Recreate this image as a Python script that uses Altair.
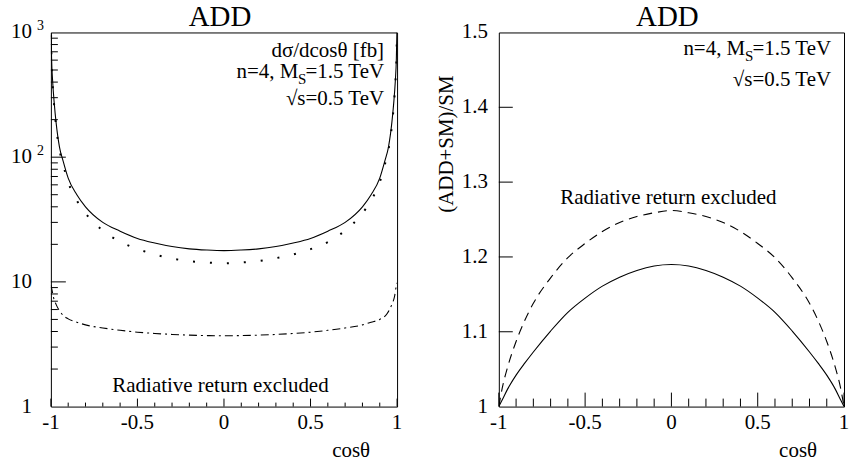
import altair as alt
import pandas as pd

FONT = "Liberation Serif"

# ---- left panel: dsigma/dcos(theta) in fb, log scale ----
cos_grid = [-0.999, -0.996, -0.99, -0.98, -0.97, -0.95, -0.93, -0.9, -0.85, -0.8,
            -0.7, -0.6, -0.5, -0.4, -0.3, -0.2, -0.1, 0.0,
            0.1, 0.2, 0.3, 0.4, 0.5, 0.6, 0.7, 0.8, 0.85, 0.9, 0.93, 0.95,
            0.97, 0.98, 0.99, 0.996, 0.999]
xsec_add_sm = [1000, 620, 410, 265, 190, 120, 94, 68, 50, 40,
               30, 25.5, 22.3, 20.5, 19.2, 18.4, 18.0, 17.8,
               18.0, 18.4, 19.2, 20.5, 22.3, 25.5, 30, 40, 50, 68, 94, 120,
               190, 265, 410, 620, 1000]
xsec_sm = [950, 580, 390, 250, 178, 114, 88, 63, 45, 35.5,
           25.8, 21.0, 18.4, 16.6, 15.4, 14.65, 14.3, 14.1,
           14.3, 14.7, 15.5, 16.6, 18.3, 20.8, 25.8, 35.5, 45, 63, 88, 114,
           178, 250, 390, 580, 950]

cos_grid_rr = [-1.0, -0.995, -0.985, -0.97, -0.94, -0.9, -0.85, -0.8, -0.7, -0.6,
               -0.5, -0.4, -0.3, -0.2, -0.1, 0.0,
               0.1, 0.2, 0.3, 0.4, 0.5, 0.6, 0.7, 0.8, 0.85, 0.9, 0.94, 0.97,
               0.985, 0.995, 1.0]
xsec_rr_excl = [9.4, 8.8, 7.5, 6.6, 5.6, 5.05, 4.75, 4.52, 4.27, 4.09,
                3.95, 3.86, 3.79, 3.74, 3.71, 3.70,
                3.71, 3.74, 3.79, 3.86, 3.95, 4.09, 4.27, 4.52, 4.75, 5.0, 5.5, 6.6,
                7.6, 9.2, 9.8]

# ---- right panel: (ADD+SM)/SM ratio ----
cos_ratio = [-1.0, -0.98, -0.95, -0.9, -0.85, -0.8, -0.7, -0.6, -0.5, -0.4, -0.3,
             -0.2, -0.1, 0.0, 0.1, 0.2, 0.3, 0.4, 0.5, 0.6, 0.7, 0.8, 0.85, 0.9,
             0.95, 0.98, 1.0]
ratio_all = [1.0, 1.009, 1.023, 1.042, 1.058, 1.073, 1.101, 1.126, 1.145, 1.161, 1.173,
             1.182, 1.188, 1.190, 1.188, 1.182, 1.173, 1.161, 1.145, 1.126, 1.101, 1.073,
             1.058, 1.042, 1.023, 1.009, 1.0]
ratio_rr_excl = [1.0, 1.025, 1.052, 1.087, 1.115, 1.138, 1.172, 1.199, 1.218, 1.234, 1.246,
                 1.254, 1.259, 1.262, 1.259, 1.254, 1.246, 1.234, 1.218, 1.199, 1.172, 1.138,
                 1.115, 1.087, 1.052, 1.025, 1.0]

# ---- ticks and tick labels ----
x_major = [-1, -0.5, 0, 0.5, 1]
x_major_labels = ["-1", "-0.5", "0", "0.5", "1"]
x_minor = [-0.9, -0.8, -0.7, -0.6, -0.4, -0.3, -0.2, -0.1,
           0.1, 0.2, 0.3, 0.4, 0.6, 0.7, 0.8, 0.9]
log_major = [1, 10, 100, 1000]
log_major_labels = ["1", "10", "10", "10"]
log_exponent_at = [1000, 100]
log_exponents = ["3", "2"]
log_minor = [2, 3, 4, 5, 6, 7, 8, 9, 20, 30, 40, 50, 60, 70, 80, 90,
             200, 300, 400, 500, 600, 700, 800, 900]
ratio_major = [1.0, 1.1, 1.2, 1.3, 1.4, 1.5]
ratio_major_labels = ["1", "1.1", "1.2", "1.3", "1.4", "1.5"]

W1, W2, H = 347, 346, 375
xscale = alt.Scale(domain=[-1, 1], nice=False, zero=False)
logscale = alt.Scale(type="log", domain=[1, 1000], nice=False)
linscale = alt.Scale(domain=[1, 1.5], nice=False, zero=False)

left_df = pd.DataFrame({"c": cos_grid, "all": xsec_add_sm, "sm": xsec_sm})
rr_df = pd.DataFrame({"c": cos_grid_rr, "rr": xsec_rr_excl})
ratio_df = pd.DataFrame({"c": cos_ratio, "all": ratio_all, "rr": ratio_rr_excl})
one = pd.DataFrame({"k": [0]})


def curve(df, field, scale, dash=None, width=1.1):
    kw = {"strokeDash": dash} if dash else {}
    return alt.Chart(df).mark_line(color="black", strokeWidth=width, interpolate="monotone",
                                   clip=True, **kw).encode(
        x=alt.X("c:Q", scale=xscale, axis=None),
        y=alt.Y(f"{field}:Q", scale=scale, axis=None))


def x_ticks(vals, length):
    return alt.Chart(pd.DataFrame({"t": vals})).mark_rule(color="black", strokeWidth=1).encode(
        x=alt.X("t:Q", scale=xscale, axis=None),
        y=alt.value(H), y2=alt.value(H - length))


def y_ticks(vals, length, scale):
    return alt.Chart(pd.DataFrame({"t": vals})).mark_rule(color="black", strokeWidth=1).encode(
        y=alt.Y("t:Q", scale=scale, axis=None),
        x=alt.value(0), x2=alt.value(length))


def x_labels():
    df = pd.DataFrame({"t": x_major, "s": x_major_labels})
    return alt.Chart(df).mark_text(font=FONT, fontSize=21, align="center",
                                   baseline="alphabetic", color="black").encode(
        x=alt.X("t:Q", scale=xscale, axis=None), y=alt.value(H + 22), text="s:N")


def y_labels(vals, texts, scale, x, size=21, dy=0, align="right"):
    df = pd.DataFrame({"t": vals, "s": texts})
    return alt.Chart(df).mark_text(font=FONT, fontSize=size, align=align,
                                   baseline="middle", dy=dy, color="black").encode(
        y=alt.Y("t:Q", scale=scale, axis=None), x=alt.value(x), text="s:N")


def note(text, x, y, align="right", size=21, angle=0, baseline="alphabetic"):
    return alt.Chart(one).mark_text(font=FONT, fontSize=size, align=align, angle=angle,
                                    baseline=baseline, color="black").encode(
        x=alt.value(x), y=alt.value(y), text=alt.value(text))


def extent(x):
    # transparent rule that fixes the outer extent of a panel
    return alt.Chart(one).mark_rule(strokeOpacity=0, color="black").encode(
        x=alt.value(x), y=alt.value(-31.5), y2=alt.value(431))


left = alt.layer(
    curve(left_df, "all", logscale),
    curve(left_df, "sm", logscale, dash=[2, 15], width=2),
    curve(rr_df, "rr", logscale, dash=[8, 4, 2, 4]),
    x_ticks(x_major, 8), x_ticks(x_minor, 4),
    y_ticks([10, 100], 15, logscale), y_ticks(log_minor, 7, logscale),
    x_labels(),
    y_labels(log_major, log_major_labels, logscale, -19),
    y_labels(log_exponent_at, log_exponents, logscale, -14, size=14, dy=-6, align="left"),
    note("cosθ", W1 - 27, H + 51),
    note("ADD", W1 / 2 - 4, -6, align="center", size=29),
    note("dσ/dcosθ [fb]", 334, 25),
    note("=1.5 TeV", 334, 46),
    note("S", 256, 52, size=15),
    note("n=4, M", 248, 46),
    note("√s=0.5 TeV", 334, 73),
    note("Radiative return excluded", 170, 360, align="center"),
    extent(-50.5), extent(W1 + 10),
).properties(width=W1, height=H)

right = alt.layer(
    curve(ratio_df, "all", linscale),
    curve(ratio_df, "rr", linscale, dash=[9, 6]),
    x_ticks(x_major, 14), x_ticks(x_minor, 8),
    y_ticks(ratio_major[1:-1], 14, linscale),
    x_labels(),
    y_labels(ratio_major, ratio_major_labels, linscale, -11),
    note("cosθ", W2 - 27, H + 51),
    note("(ADD+SM)/SM", -52, 43, angle=270, baseline="middle"),
    note("ADD", W2 / 2 - 4, -6, align="center", size=29),
    note("=1.5 TeV", 333, 23),
    note("S", 255, 29, size=15),
    note("n=4, M", 247, 23),
    note("√s=0.5 TeV", 333, 54),
    note("Radiative return excluded", 170, 172, align="center"),
    extent(-70), extent(W2),
).properties(width=W2, height=H)

chart = alt.hconcat(left, right, spacing=20).properties(
    padding={"left": 0, "top": 0, "right": 0, "bottom": 0}
).configure_view(stroke="black", strokeWidth=1)

chart.save("out.html", embed_options={"renderer": "svg", "actions": False})
